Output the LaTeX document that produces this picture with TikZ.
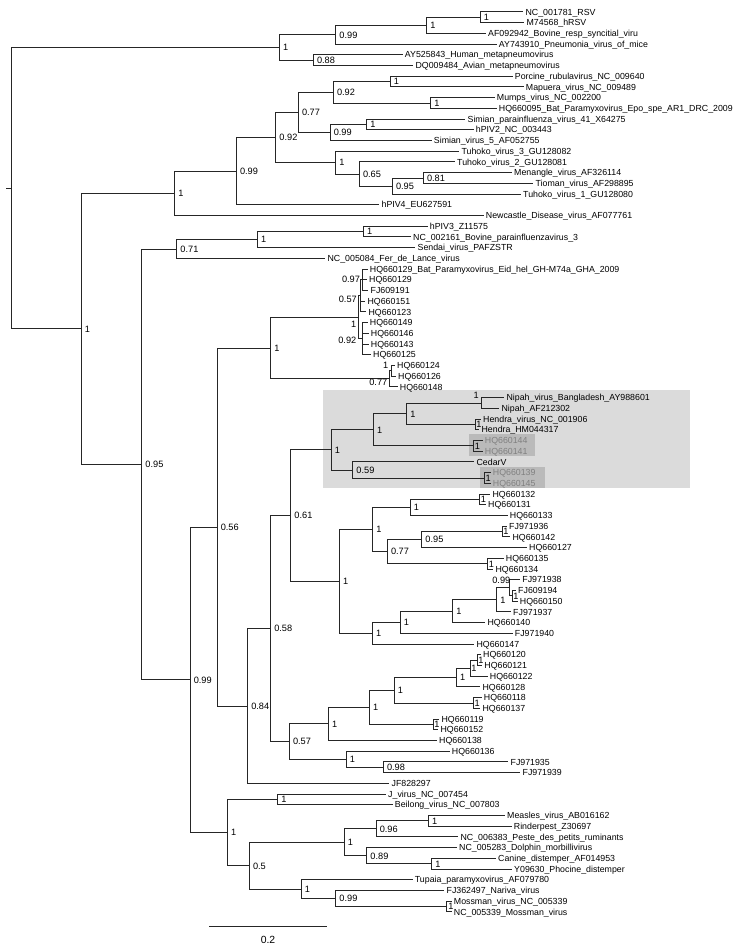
\documentclass[tikz,border=0pt]{standalone}
\usepackage{fontspec}
\setmainfont{Liberation Sans}
\usetikzlibrary{calc}
\pgfmathdeclarefunction{ry}{1}{\pgfmathparse{12+(#1-1)*10.714}}
\newcommand\lf[3]{\node[leaf] (l#1) at (#2,{ry(#1)}) {#3};}
\newcommand\glf[3]{\node[gleaf] (l#1) at (#2,{ry(#1)}) {#3};}
\newcommand\inode[4]{\path ($(#3)!0.5!(#4)$) coordinate (#1-m); \coordinate (#1) at (#2,0 |- #1-m);}
\newcommand\eds[2]{\foreach \c in {#2}{\draw[br] (#1) |- (\c);}}
\newcommand\sv[3][3.5]{\node[sup,anchor=west] (s#2) at ($(#2)+(#1,0)$) {#3};}
\begin{document}
\begin{tikzpicture}[x=0.75pt,y=-0.75pt,
  br/.style={line width=0.75pt, black!85, line cap=rect},
  leaf/.style={anchor=west, inner xsep=2pt, inner ysep=0pt, text height=4.7pt, text depth=0pt, font=\fontsize{6.6}{7}\selectfont},
  gleaf/.style={leaf, text=black!50},
  sup/.style={inner sep=0pt, text height=4.9pt, text depth=0pt, font=\fontsize{6.9}{7}\selectfont}]
\useasboundingbox (0,0) rectangle (747,945);
% highlight boxes
\fill[black!14] (323.3,390) rectangle (690,488.3);
\fill[black!27] (469.3,434.3) rectangle (535,456);
\fill[black!27] (480,466.7) rectangle (545,488.3);
% leaves
\lf{1}{522.7}{NC\_001781\_RSV}
\lf{2}{523.7}{M74568\_hRSV}
\lf{3}{485.3}{AF092942\_Bovine\_resp\_syncitial\_viru}
\lf{4}{496}{AY743910\_Pneumonia\_virus\_of\_mice}
\lf{5}{402}{AY525843\_Human\_metapneumovirus}
\lf{6}{412.7}{DQ009484\_Avian\_metapneumovirus}
\lf{7}{512}{Porcine\_rubulavirus\_NC\_009640}
\lf{8}{523}{Mapuera\_virus\_NC\_009489}
\lf{9}{494}{Mumps\_virus\_NC\_002200}
\lf{10}{496}{HQ660095\_Bat\_Paramyxovirus\_Epo\_spe\_AR1\_DRC\_2009}
\lf{11}{464.7}{Simian\_parainfluenza\_virus\_41\_X64275}
\lf{12}{473}{hPIV2\_NC\_003443}
\lf{13}{431}{Simian\_virus\_5\_AF052755}
\lf{14}{458.7}{Tuhoko\_virus\_3\_GU128082}
\lf{15}{454.3}{Tuhoko\_virus\_2\_GU128081}
\lf{16}{511.3}{Menangle\_virus\_AF326114}
\lf{17}{532.7}{Tioman\_virus\_AF298895}
\lf{18}{520.3}{Tuhoko\_virus\_1\_GU128080}
\lf{19}{378.7}{hPIV4\_EU627591}
\lf{20}{483}{Newcastle\_Disease\_virus\_AF077761}
\lf{21}{427}{hPIV3\_Z11575}
\lf{22}{410.3}{NC\_002161\_Bovine\_parainfluenzavirus\_3}
\lf{23}{414.7}{Sendai\_virus\_PAFZSTR}
\lf{24}{324.7}{NC\_005084\_Fer\_de\_Lance\_virus}
\lf{25}{367}{HQ660129\_Bat\_Paramyxovirus\_Eid\_hel\_GH-M74a\_GHA\_2009}
\lf{26}{366.3}{HQ660129}
\lf{27}{367.7}{FJ609191}
\lf{28}{364.7}{HQ660151}
\lf{29}{365.7}{HQ660123}
\lf{30}{367}{HQ660149}
\lf{31}{368}{HQ660146}
\lf{32}{368}{HQ660143}
\lf{33}{370.3}{HQ660125}
\lf{34}{394.3}{HQ660124}
\lf{35}{395.3}{HQ660126}
\lf{36}{397}{HQ660148}
\lf{37}{503.7}{Nipah\_virus\_Bangladesh\_AY988601}
\lf{38}{498.7}{Nipah\_AF212302}
\lf{39}{480.3}{Hendra\_virus\_NC\_001906}
\lf{40}{478.7}{Hendra\_HM044317}
\glf{41}{482}{HQ660144}
\glf{42}{482}{HQ660141}
\lf{43}{473.7}{CedarV}
\glf{44}{490}{HQ660139}
\glf{45}{490}{HQ660145}
\lf{46}{489.7}{HQ660132}
\lf{47}{485.3}{HQ660131}
\lf{48}{507}{HQ660133}
\lf{49}{506.3}{FJ971936}
\lf{50}{509.7}{HQ660142}
\lf{51}{526.3}{HQ660127}
\lf{52}{503}{HQ660135}
\lf{53}{492.7}{HQ660134}
\lf{54}{519.5}{FJ971938}
\lf{55}{515.3}{FJ609194}
\lf{56}{517}{HQ660150}
\lf{57}{510.3}{FJ971937}
\lf{58}{484.7}{HQ660140}
\lf{59}{512}{FJ971940}
\lf{60}{473.7}{HQ660147}
\lf{61}{480.3}{HQ660120}
\lf{62}{481.5}{HQ660121}
\lf{63}{487}{HQ660122}
\lf{64}{479.7}{HQ660128}
\lf{65}{481}{HQ660118}
\lf{66}{479.7}{HQ660137}
\lf{67}{438.7}{HQ660119}
\lf{68}{437.7}{HQ660152}
\lf{69}{436.3}{HQ660138}
\lf{70}{449}{HQ660136}
\lf{71}{507.7}{FJ971935}
\lf{72}{519.7}{FJ971939}
\lf{73}{388.7}{JF828297}
\lf{74}{385.3}{J\_virus\_NC\_007454}
\lf{75}{392}{Beilong\_virus\_NC\_007803}
\lf{76}{504.3}{Measles\_virus\_AB016162}
\lf{77}{511}{Rinderpest\_Z30697}
\lf{78}{457.7}{NC\_006383\_Peste\_des\_petits\_ruminants}
\lf{79}{456.3}{NC\_005283\_Dolphin\_morbillivirus}
\lf{80}{495.3}{Canine\_distemper\_AF014953}
\lf{81}{511.3}{Y09630\_Phocine\_distemper}
\lf{82}{412}{Tupaia\_paramyxovirus\_AF079780}
\lf{83}{443.7}{FJ362497\_Nariva\_virus}
\lf{84}{451}{Mossman\_virus\_NC\_005339}
\lf{85}{451}{NC\_005339\_Mossman\_virus}
% internal nodes
\inode{P2}{480}{l1}{l2}
\inode{P1}{426.7}{P2}{l3}
\inode{B}{335.7}{P1}{l4}
\inode{C}{313.3}{l5}{l6}
\inode{A}{279.3}{B}{C}
\inode{J}{390}{l7}{l8}
\inode{K}{430.7}{l9}{l10}
\inode{I}{333.3}{J}{K}
\inode{M}{366.7}{l11}{l12}
\inode{L}{330}{M}{l13}
\inode{H}{298.3}{I}{L}
\inode{R}{423.3}{l16}{l17}
\inode{Q}{392.3}{R}{l18}
\inode{O}{359.3}{l15}{Q}
\inode{N}{335.7}{l14}{O}
\inode{G}{275.7}{H}{N}
\inode{F}{236.3}{G}{l19}
\inode{E}{174.7}{F}{l20}
\inode{U}{363.3}{l21}{l22}
\inode{T}{257.3}{U}{l23}
\inode{S}{176.7}{T}{l24}
\inode{z1}{362.7}{l25}{l27}
\inode{z2}{360.5}{z1}{l29}
\inode{z3}{362.5}{l30}{l33}
\inode{Z}{358}{z2}{z3}
\inode{aa1}{391.5}{l34}{l35}
\inode{aa}{389.5}{aa1}{l36}
\inode{Y}{270.7}{Z}{aa}
\inode{nip}{481.7}{l37}{l38}
\inode{hen}{475}{l39}{l40}
\inode{h1}{406.7}{nip}{hen}
\inode{gA}{473.7}{l41}{l42}
\inode{h2}{373.3}{h1}{gA}
\inode{gB}{484.3}{l44}{l45}
\inode{h3}{352.7}{l43}{gB}
\inode{Hen}{331}{h2}{h3}
\inode{q1}{479.5}{l46}{l47}
\inode{q2}{410}{q1}{l48}
\inode{q3a}{502}{l49}{l50}
\inode{q3}{421.7}{q3a}{l51}
\inode{q4}{487.5}{l52}{l53}
\inode{q5}{387.3}{q3}{q4}
\inode{q6}{372.7}{q2}{q5}
\inode{q11}{512}{l55}{l56}
\inode{q10}{509.5}{l54}{q11}
\inode{q9c}{496.7}{q10}{l57}
\inode{q9b}{452.7}{q9c}{l58}
\inode{q9}{400}{q9b}{l59}
\inode{q8}{372.3}{q9}{l60}
\inode{HQ}{339.3}{q6}{q8}
\inode{EE}{290.7}{Hen}{HQ}
\inode{r1}{477}{l61}{l62}
\inode{r2}{470}{r1}{l63}
\inode{r3}{456.3}{r2}{l64}
\inode{r4}{473.3}{l65}{l66}
\inode{r5}{394}{r3}{r4}
\inode{r6}{433}{l67}{l68}
\inode{r7}{369.3}{r5}{r6}
\inode{r8}{328.3}{r7}{l69}
\inode{r9}{383.3}{l71}{l72}
\inode{r10}{346}{l70}{r9}
\inode{DD}{289.3}{r8}{r10}
\inode{CC}{270.5}{EE}{DD}
\inode{BB}{247.5}{CC}{l73}
\inode{W}{217}{Y}{BB}
\inode{x1}{277.7}{l74}{l75}
\inode{x2}{428.3}{l76}{l77}
\inode{x3}{376}{x2}{l78}
\inode{x4}{431.5}{l80}{l81}
\inode{x5}{366.7}{l79}{x4}
\inode{x6}{344}{x3}{x5}
\inode{x8}{446.7}{l84}{l85}
\inode{x7}{335.7}{l83}{x8}
\inode{x9}{301}{l82}{x7}
\inode{x10}{249.3}{x6}{x9}
\inode{X}{227.3}{x1}{x10}
\inode{V}{190}{W}{X}
\inode{D2}{141.7}{S}{V}
\inode{D}{81}{E}{D2}
\inode{Root}{11.7}{A}{D}
\coordinate (rs) at (6,0 |- Root);
% branches
\draw[br] (rs) -- (Root);
\eds{P2}{l1,l2} \eds{P1}{P2,l3} \eds{B}{P1,l4} \eds{C}{l5,l6} \eds{A}{B,C}
\eds{J}{l7,l8} \eds{K}{l9,l10} \eds{I}{J,K} \eds{M}{l11,l12} \eds{L}{M,l13}
\eds{H}{I,L} \eds{R}{l16,l17} \eds{Q}{R,l18} \eds{O}{l15,Q} \eds{N}{l14,O}
\eds{G}{H,N} \eds{F}{G,l19} \eds{E}{F,l20}
\eds{U}{l21,l22} \eds{T}{U,l23} \eds{S}{T,l24}
\eds{z1}{l25,l26,l27} \eds{z2}{z1,l28,l29} \eds{z3}{l30,l31,l32,l33} \eds{Z}{z2,z3}
\eds{aa1}{l34,l35} \eds{aa}{aa1,l36} \eds{Y}{Z,aa}
\eds{nip}{l37,l38} \eds{hen}{l39,l40} \eds{h1}{nip,hen} \eds{gA}{l41,l42}
\eds{h2}{h1,gA} \eds{gB}{l44,l45} \eds{h3}{l43,gB} \eds{Hen}{h2,h3}
\eds{q1}{l46,l47} \eds{q2}{q1,l48} \eds{q3a}{l49,l50} \eds{q3}{q3a,l51}
\eds{q4}{l52,l53} \eds{q5}{q3,q4} \eds{q6}{q2,q5}
\eds{q11}{l55,l56} \eds{q10}{l54,q11} \eds{q9c}{q10,l57} \eds{q9b}{q9c,l58}
\eds{q9}{q9b,l59} \eds{q8}{q9,l60} \eds{HQ}{q6,q8} \eds{EE}{Hen,HQ}
\eds{r1}{l61,l62} \eds{r2}{r1,l63} \eds{r3}{r2,l64} \eds{r4}{l65,l66}
\eds{r5}{r3,r4} \eds{r6}{l67,l68} \eds{r7}{r5,r6} \eds{r8}{r7,l69}
\eds{r9}{l71,l72} \eds{r10}{l70,r9} \eds{DD}{r8,r10} \eds{CC}{EE,DD}
\eds{BB}{CC,l73} \eds{W}{Y,BB}
\eds{x1}{l74,l75} \eds{x2}{l76,l77} \eds{x3}{x2,l78} \eds{x4}{l80,l81}
\eds{x5}{l79,x4} \eds{x6}{x3,x5} \eds{x8}{l84,l85} \eds{x7}{l83,x8}
\eds{x9}{l82,x7} \eds{x10}{x6,x9} \eds{X}{x1,x10}
\eds{V}{W,X} \eds{D2}{S,V} \eds{D}{E,D2} \eds{Root}{A,D}
% support values
\sv{P2}{1} \sv{P1}{1} \sv{B}{0.99} \sv{C}{0.88} \sv{A}{1}
\sv{J}{1} \sv{K}{1} \sv{I}{0.92} \sv{M}{1} \sv{L}{0.99} \sv{H}{0.77}
\sv{R}{0.81} \sv{Q}{0.95} \sv{O}{0.65} \sv{N}{1} \sv{G}{0.92} \sv{F}{0.99} \sv{E}{1}
\sv{U}{1} \sv{T}{1} \sv{S}{0.71}
\sv{Y}{1}
\sv[1]{hen}{1} \sv{h1}{1} \sv[1]{gA}{1} \sv{h2}{1} \sv[1]{gB}{1} \sv{h3}{0.59} \sv{Hen}{1}
\sv[1]{q1}{1} \sv{q2}{1} \sv[1]{q3a}{1} \sv{q3}{0.95} \sv[1]{q4}{1} \sv{q5}{0.77} \sv{q6}{1}
\sv[1]{q11}{1} \sv{q9c}{1} \sv{q9b}{1} \sv{q9}{1} \sv{q8}{1} \sv{HQ}{1} \sv{EE}{0.61}
\sv[1]{r1}{1} \sv[1]{r2}{1} \sv{r3}{1} \sv[1]{r4}{1} \sv{r5}{1} \sv[1]{r6}{1} \sv{r7}{1} \sv{r8}{1}
\sv{r9}{0.98} \sv{r10}{1} \sv{DD}{0.57} \sv{CC}{0.58} \sv{BB}{0.84} \sv{W}{0.56}
\sv{x1}{1} \sv{x2}{1} \sv{x3}{0.96} \sv{x4}{1} \sv{x5}{0.89} \sv{x6}{1}
\sv[1.5]{x8}{1} \sv{x7}{0.99} \sv{x9}{1} \sv{x10}{0.5} \sv{X}{1}
\sv{V}{0.99} \sv{D2}{0.95} \sv{D}{1}
\node[sup,anchor=east] (sz1) at (360.2,279.7) {0.97};
\node[sup,anchor=east] (sz2) at (357,299) {0.57};
\node[sup,anchor=east] (sZ) at (356.5,324) {1};
\node[sup,anchor=east] (sz3) at (356.5,340.7) {0.92};
\node[sup,anchor=east] (saa1) at (388.5,365.7) {1};
\node[sup,anchor=east] (saa) at (387.5,382.7) {0.77};
\node[sup,anchor=east] (snip) at (479,395.7) {1};
\node[sup,anchor=east] (sq10) at (510.5,580) {0.99};
% scale bar
\coordinate (sb1) at (209,926.7);
\coordinate (sb2) at (326.7,926.7);
\draw[br] (sb1) -- (sb2);
\node[inner sep=0pt, font=\fontsize{7.8}{9}\selectfont] (sbl) at (268,939.5) {0.2};
\end{tikzpicture}
\end{document}
